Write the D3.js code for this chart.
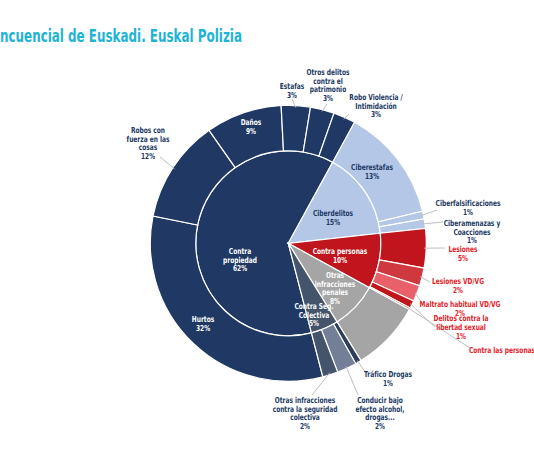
<!DOCTYPE html>
<html lang="es">
    <head>
        <meta charset="utf-8" />
        <title>Sunburst delincuencial</title>
        <style>
            body { margin: 0; background: #ffffff; }
            svg text {
                font-family: "Liberation Sans Narrow", "DejaVu Sans Condensed", "Arial Narrow", sans-serif;
                font-weight: bold;
            }
            .title { font-size: 18px; fill: #1eb3d7; }
            .lbl { font-size: 8.2px; text-anchor: middle; }
            .leader { stroke: #bfbfbf; stroke-width: 1; fill: none; }
        </style>
        <script src="https://cdn.jsdelivr.net/npm/d3@7"></script>
    </head>
    <body>
        <script>
            // inner ring: categories and their colours
            var categories = ['Contra propiedad', 'Ciberdelitos', 'Contra personas', 'Otras infracciones penales', 'Contra Seg. Colectiva'];
            var categoryColors = ['#203864', '#b4c7e7', '#c0151d', '#a5a5a5', '#44546a'];

            // outer ring, one list per category (clockwise order)
            var subNames = [
                ['Hurtos', 'Robos con fuerza en las cosas', 'Daños', 'Estafas', 'Otros delitos contra el patrimonio', 'Robo Violencia / Intimidación'],
                ['Ciberestafas', 'Ciberfalsificaciones', 'Ciberamenazas y Coacciones'],
                ['Lesiones', 'Lesiones VD/VG', 'Maltrato habitual VD/VG', 'Delitos contra la libertad sexual', 'Contra las personas'],
                ['Otras infracciones penales (resto)'],
                ['Tráfico Drogas', 'Conducir bajo efecto alcohol, drogas...', 'Otras infracciones contra la seguridad colectiva']
            ];
            var subValues = [
                [32.2, 12.1, 8.9, 3.4, 2.8, 2.6],
                [13.3, 0.9, 1.1],
                [4.6, 2.1, 1.9, 0.9, 0.2],
                [8.2],
                [0.7, 2.3, 1.8]
            ];
            var subColors = [
                ['#203864', '#203864', '#203864', '#203864', '#203864', '#203864'],
                ['#b4c7e7', '#b4c7e7', '#b4c7e7'],
                ['#c0151d', '#d0383f', '#e8606a', '#c0151d', '#c0151d'],
                ['#a5a5a5'],
                ['#2e3d57', '#737f96', '#44546a']
            ];

            var width = 534, height = 462;
            var cx = 288.3, cy = 243.3;       // centre of the sunburst
            var rInner = 92.5, rOuter = 138;  // ring radii
            var offset = 165.5 * Math.PI / 180; // first slice starts here
            var squeeze = 0.8;                // labels use a condensed face

            var navy = '#203864', red = '#e3212b';

            // text placement (x, y = centre of first line), optional leader end
            var labelLayout = [
                { name: 'Contra propiedad', lines: ['Contra', 'propiedad'], x: 240, y: 251, color: '#fff' },
                { name: 'Ciberdelitos', lines: ['Ciberdelitos'], x: 333, y: 213, color: navy },
                { name: 'Contra personas', lines: ['Contra personas'], x: 340, y: 251, color: '#fff' },
                { name: 'Otras infracciones penales', lines: ['Otras', 'infracciones', 'penales'], x: 335, y: 275, color: '#fff' },
                { name: 'Contra Seg. Colectiva', lines: ['Contra Seg.', 'Colectiva'], x: 314, y: 306, color: '#fff' },
                { name: 'Hurtos', lines: ['Hurtos'], x: 203, y: 319, color: '#fff' },
                { name: 'Daños', lines: ['Daños'], x: 251, y: 122.5, color: '#fff' },
                { name: 'Ciberestafas', lines: ['Ciberestafas'], x: 372, y: 167, color: navy },
                { name: 'Robos con fuerza en las cosas', lines: ['Robos con', 'fuerza en las', 'cosas'], x: 148, y: 130, color: navy, end: [160, 157] },
                { name: 'Estafas', lines: ['Estafas'], x: 292, y: 86, color: navy, end: [292, 99] },
                { name: 'Otros delitos contra el patrimonio', lines: ['Otros delitos', 'contra el', 'patrimonio'], x: 328, y: 72, color: navy, end: [327, 104] },
                { name: 'Robo Violencia / Intimidación', lines: ['Robo Violencia /', 'Intimidación'], x: 376, y: 97, color: navy, end: [349, 114] },
                { name: 'Ciberfalsificaciones', lines: ['Ciberfalsificaciones'], x: 468, y: 203, color: navy, end: [437, 210] },
                { name: 'Ciberamenazas y Coacciones', lines: ['Ciberamenazas y', 'Coacciones'], x: 472, y: 223, color: navy, end: [443, 222] },
                { name: 'Lesiones', lines: ['Lesiones'], x: 463, y: 249, color: red, end: [445, 248] },
                { name: 'Lesiones VD/VG', lines: ['Lesiones VD/VG'], x: 458, y: 281, color: red, end: [430, 282] },
                { name: 'Maltrato habitual VD/VG', lines: ['Maltrato habitual VD/VG'], x: 460, y: 304, color: red, end: [422, 303] },
                { name: 'Delitos contra la libertad sexual', lines: ['Delitos contra la', 'libertad sexual'], x: 461, y: 318.5, color: red, end: [435, 327] },
                { name: 'Contra las personas', lines: ['Contra las personas'], x: 502, y: 350, color: red, end: [470, 348], noPct: true },
                { name: 'Tráfico Drogas', lines: ['Tráfico Drogas'], x: 388, y: 374, color: navy, end: [365, 372] },
                { name: 'Conducir bajo efecto alcohol, drogas...', lines: ['Conducir bajo', 'efecto alcohol,', 'drogas...'], x: 380, y: 400, color: navy, end: [358, 395] },
                { name: 'Otras infracciones contra la seguridad colectiva', lines: ['Otras infracciones', 'contra la seguridad', 'colectiva'], x: 305, y: 400, color: navy, end: [312, 395] }
            ];

            var tree = {
                name: 'root',
                children: categories.map(function(c, i) {
                    return {
                        name: c, color: categoryColors[i],
                        children: subNames[i].map(function(n, j) {
                            return { name: n, value: subValues[i][j], color: subColors[i][j] };
                        })
                    };
                })
            };

            var root = d3.hierarchy(tree).sum(function(d) { return d.value || 0; });
            d3.partition().size([2 * Math.PI, 3])(root);

            var radius = d3.scaleLinear().domain([1, 2, 3]).range([0, rInner, rOuter]);

            var arc = d3.arc()
                .startAngle(function(d) { return d.x0 + offset; })
                .endAngle(function(d) { return d.x1 + offset; })
                .innerRadius(function(d) { return radius(d.y0); })
                .outerRadius(function(d) { return radius(d.y1); });

            var svg = d3.select('body').append('svg')
                .attr('width', width)
                .attr('height', height);

            svg.append('text')
                .attr('class', 'title')
                .attr('x', 0)
                .attr('y', 42)
                .attr('textLength', 242)
                .attr('lengthAdjust', 'spacingAndGlyphs')
                .text('ncuencial de Euskadi. Euskal Polizia');

            var g = svg.append('g').attr('transform', 'translate(' + cx + ',' + cy + ')');

            g.selectAll('path')
                .data(root.descendants().filter(function(d) { return d.depth > 0; }))
                .enter()
                .append('path')
                .attr('d', arc)
                .attr('fill', function(d) { return d.data.color; })
                .attr('stroke', '#fff')
                .attr('stroke-width', 1.2);

            var byName = {};
            root.descendants().forEach(function(d) { byName[d.data.name] = d; });

            // leader lines from the outer edge of a slice to its label
            var leaders = labelLayout.filter(function(l) { return l.end; });
            svg.selectAll('line.leader')
                .data(leaders)
                .enter()
                .append('line')
                .attr('class', 'leader')
                .attr('x1', function(l) {
                    var d = byName[l.name], a = (d.x0 + d.x1) / 2 + offset;
                    return cx + (rOuter - 2) * Math.sin(a);
                })
                .attr('y1', function(l) {
                    var d = byName[l.name], a = (d.x0 + d.x1) / 2 + offset;
                    return cy - (rOuter - 2) * Math.cos(a);
                })
                .attr('x2', function(l) { return l.end[0]; })
                .attr('y2', function(l) { return l.end[1]; });

            var lineH = 8.7;
            var labels = svg.selectAll('text.lbl')
                .data(labelLayout)
                .enter()
                .append('text')
                .attr('class', 'lbl')
                .attr('transform', function(l) { return 'translate(' + l.x + ',0) scale(' + squeeze + ',1)'; })
                .attr('fill', function(l) { return l.color; });

            labels.each(function(l) {
                var t = d3.select(this);
                var rows = l.lines.slice();
                if (!l.noPct) rows.push(Math.round(byName[l.name].value) + '%');
                rows.forEach(function(r, i) {
                    t.append('tspan')
                        .attr('x', 0)
                        .attr('y', l.y + i * lineH)
                        .attr('dy', '0.35em')
                        .text(r);
                });
            });
        </script>
    </body>
</html>
